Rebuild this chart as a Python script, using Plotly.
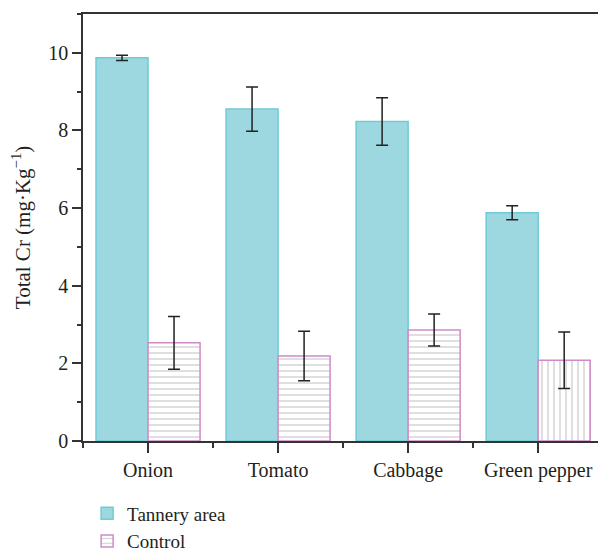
import plotly.graph_objects as go

categories = ["Onion", "Tomato", "Cabbage", "Green pepper"]
tannery = [9.87, 8.55, 8.23, 5.88]
tannery_err = [0.07, 0.57, 0.61, 0.18]
control = [2.53, 2.19, 2.86, 2.08]
control_err = [0.68, 0.64, 0.41, 0.73]
control_patterns = ["-", "-", "-", "|"]
yticks = [0, 2, 4, 6, 8, 10]

xpos = list(range(len(categories)))
FONT = "Liberation Serif"

fig = go.Figure()
fig.add_trace(go.Bar(
    x=xpos, y=tannery, name="Tannery area",
    marker=dict(color="#9dd8e1", line=dict(color="#6fcbd6", width=1.5)),
    error_y=dict(type="data", array=tannery_err, color="#222222", thickness=1.5, width=6),
))
fig.add_trace(go.Bar(
    x=xpos, y=control, name="Control",
    marker=dict(color="white", line=dict(color="#d08ac8", width=1.5),
                pattern=dict(shape=control_patterns, fgcolor="#a9a9a9", bgcolor="white",
                             size=6, solidity=0.25)),
    error_y=dict(type="data", array=control_err, color="#222222", thickness=1.5, width=6),
))

fig.update_layout(
    width=598, height=555,
    margin=dict(l=83, r=0, t=14, b=114, autoexpand=False),
    paper_bgcolor="white", plot_bgcolor="white",
    barmode="group", bargap=0.2, bargroupgap=0,
    font=dict(family=FONT, size=20, color="#231f20"),
    showlegend=True,
    legend=dict(orientation="v", x=0.008, xanchor="left", y=-0.125, yanchor="top",
                font=dict(size=19),
                tracegroupgap=0, itemwidth=30, bgcolor="rgba(0,0,0,0)",
                borderwidth=0),
    xaxis=dict(
        range=[-0.5, 3.46], tickvals=xpos, ticktext=categories,
        showgrid=False, zeroline=False, automargin=False,
        showline=True, linecolor="#333333", linewidth=1.5, mirror=True,
        ticks="outside", ticklen=10, tickwidth=1.5, tickcolor="#333333",
        tickfont=dict(size=20),
        minor=dict(ticks="outside", ticklen=5, tickwidth=1.5, tickcolor="#333333",
                   tick0=0.5, dtick=1, showgrid=False),
    ),
    yaxis=dict(
        range=[0, 11], tickvals=yticks,
        showgrid=False, zeroline=False, automargin=False,
        showline=True, linecolor="#333333", linewidth=1.5,
        ticks="outside", ticklen=9, tickwidth=1.5, tickcolor="#333333",
        tickfont=dict(size=20),
        minor=dict(ticks="outside", ticklen=4, tickwidth=1.5, tickcolor="#333333",
                   tick0=0, dtick=1, showgrid=False),
        title=dict(text="Total Cr (mg·Kg<sup>−1</sup>)",
                   font=dict(size=21), standoff=12),
    ),
)

fig.write_html("out.html", config={"displayModeBar": False},
               post_script="document.body.style.margin='0';")
